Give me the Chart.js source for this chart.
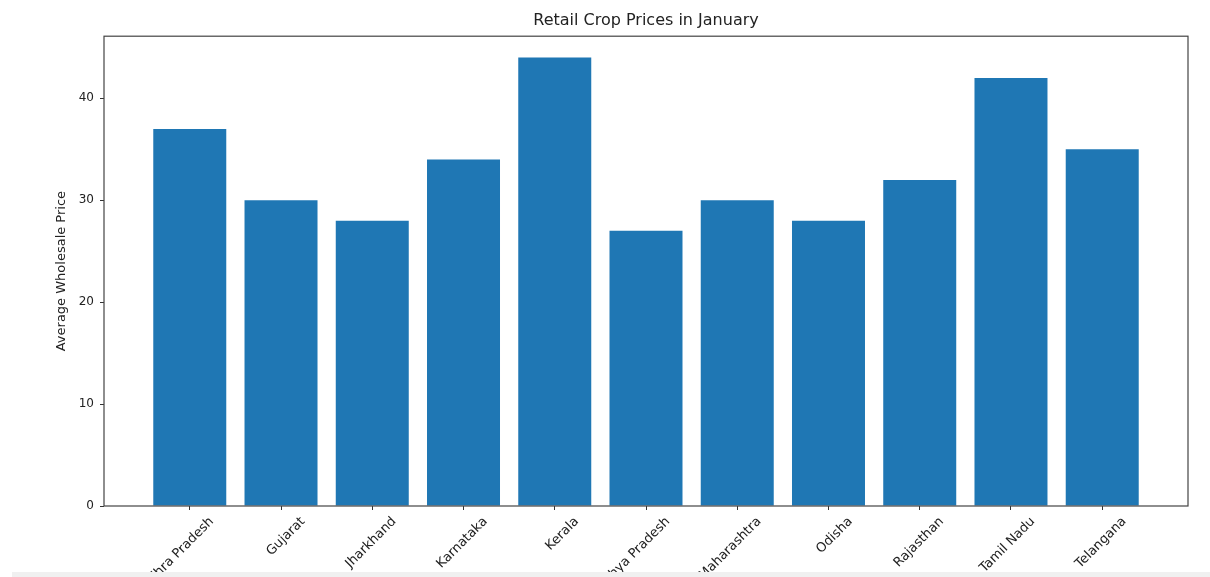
<!DOCTYPE html>
<html>
<head>
<meta charset="utf-8">
<script src="https://cdn.jsdelivr.net/npm/chart.js@4/dist/chart.umd.min.js"></script>
<style>
  body { margin: 0; background: #fff; overflow: hidden; }
  #wrap { position: relative; width: 1210px; height: 577px; overflow: hidden; }
  #strip { position: absolute; left: 12px; right: 0; top: 572px; height: 5px; background: #f0f0f0; }
</style>
</head>
<body>
<div id="wrap">
  <canvas id="bar-chart" width="1210" height="620"></canvas>
  <div id="strip"></div>
</div>
<script>
// states on the x axis and their average wholesale price
const states = ['Andhra Pradesh', 'Gujarat', 'Jharkhand', 'Karnataka', 'Kerala', 'Madhya Pradesh',
                'Maharashtra', 'Odisha', 'Rajasthan', 'Tamil Nadu', 'Telangana'];
const prices = [37, 30, 28, 34, 44, 27, 30, 28, 32, 42, 35];
const yTicks = [0, 10, 20, 30, 40];

const ink = '#222';
const fontFam = '"DejaVu Sans", sans-serif';

// draws the box round the plot like matplotlib spines
const frame = {
    id: 'frame',
    afterDatasetsDraw(chart) {
        const a = chart.chartArea;
        const ctx = chart.ctx;
        ctx.save();
        ctx.strokeStyle = '#444';
        ctx.lineWidth = 1.2;
        ctx.strokeRect(a.left, a.top, a.right - a.left, a.bottom - a.top);
        ctx.restore();
    }
};

const config = {
    type: 'bar',
    data: {
        datasets: [{
            label: 'price',
            data: prices.map((v, i) => ({ x: i, y: v })),
            backgroundColor: '#1f77b4',
            borderWidth: 0,
            categoryPercentage: 0.8,
            barPercentage: 1.0
        }]
    },
    options: {
        responsive: false,
        animation: false,
        layout: { padding: { left: 0, right: 22, top: 0, bottom: 0 } },
        plugins: {
            legend: { display: false },
            tooltip: { enabled: false },
            title: {
                display: true,
                text: 'Retail Crop Prices in January',
                fullSize: false,
                color: ink,
                font: { family: fontFam, size: 16, weight: 'normal' },
                padding: { top: 11, bottom: 6 }
            }
        },
        scales: {
            x: {
                type: 'linear',
                min: -0.94,
                max: 10.94,
                offset: false,
                border: { display: false },
                grid: { offset: false, drawOnChartArea: false, drawTicks: true, tickLength: 4, color: '#333' },
                afterBuildTicks: (scale) => {
                    scale.ticks = states.map((s, i) => ({ value: i }));
                },
                afterFit: (scale) => { scale.height = 114; },
                ticks: {
                    autoSkip: false,
                    minRotation: 45,
                    maxRotation: 45,
                    labelOffset: 22,
                    padding: 4,
                    color: ink,
                    font: { family: fontFam, size: 13 },
                    callback: (value) => states[value]
                }
            },
            y: {
                min: 0,
                max: 46.1,
                border: { display: false },
                grid: { drawOnChartArea: false, drawTicks: true, tickLength: 4, color: '#333' },
                afterBuildTicks: (scale) => {
                    scale.ticks = yTicks.map(v => ({ value: v }));
                },
                afterFit: (scale) => { scale.width = 104; },
                ticks: {
                    padding: 6,
                    color: ink,
                    font: { family: fontFam, size: 12 }
                },
                title: {
                    display: true,
                    text: 'Average Wholesale Price',
                    color: ink,
                    font: { family: fontFam, size: 13 },
                    padding: { top: 54, bottom: 0 }
                }
            }
        }
    },
    plugins: [frame]
};

window.onload = function() {
    const ctx = document.getElementById('bar-chart').getContext('2d');
    window.myBar = new Chart(ctx, config);
};
</script>
</body>
</html>
